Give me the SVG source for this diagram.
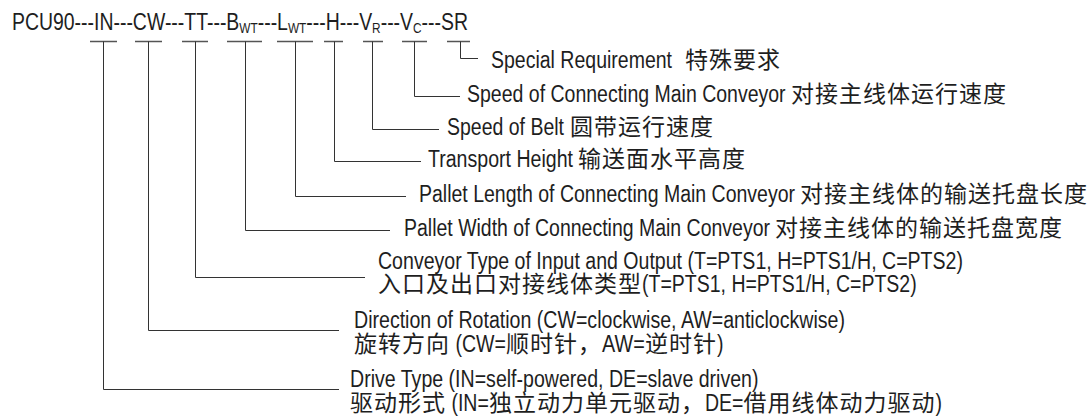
<svg xmlns="http://www.w3.org/2000/svg" width="1091" height="419" viewBox="0 0 1091 419">
  <style>
    .e { font-family: "Liberation Sans", Arial, sans-serif; font-size: 23px; fill: #1e1e1e; }
    .z { font-family: "Noto Sans CJK SC", "Noto Sans CJK TC", sans-serif; font-size: 23px; letter-spacing: 1px; fill: #1e1e1e; }
    .sub { font-size: 14px; }
    .tick { stroke: #555; stroke-width: 1.5; fill: none; }
    .conn { stroke: #333; stroke-width: 1; fill: none; }
  </style>
  <rect width="1091" height="419" fill="#fff"/>

  <g id="code">
    <text class="e" x="12" y="30" textLength="456" lengthAdjust="spacingAndGlyphs">PCU90---IN---CW---TT---B<tspan class="sub" dy="3">WT</tspan><tspan dy="-3">---L</tspan><tspan class="sub" dy="3">WT</tspan><tspan dy="-3">---H---V</tspan><tspan class="sub" dy="3">R</tspan><tspan dy="-3">---V</tspan><tspan class="sub" dy="3">C</tspan><tspan dy="-3">---SR</tspan></text>
  </g>

  <g id="connectors">
    <path class="tick" d="M90 41.5H117M135 41.5H162M182 41.5H208M227 41.5H262M277 41.5H313M324 41.5H343M363 41.5H383M402 41.5H427M447 41.5H470"/>
    <path class="conn" d="M460.5 41.5V58.5H478"/>
    <path class="conn" d="M414.5 41.5V96.5H460"/>
    <path class="conn" d="M372.5 41.5V129.5H439"/>
    <path class="conn" d="M334.5 41.5V161.5H421"/>
    <path class="conn" d="M295.5 41.5V196.5H406"/>
    <path class="conn" d="M245.5 41.5V230.5H390"/>
    <path class="conn" d="M195.5 41.5V277.5H365"/>
    <path class="conn" d="M148.5 41.5V330.5H339"/>
    <path class="conn" d="M103.5 41.5V389.5H339"/>
  </g>

  <g id="sr">
    <text class="e" x="491" y="68" textLength="181" lengthAdjust="spacingAndGlyphs">Special Requirement</text>
    <text class="z" x="685" y="68">特殊要求</text>
  </g>
  <g id="vc">
    <text class="e" x="467" y="102" textLength="318.6" lengthAdjust="spacingAndGlyphs">Speed of Connecting Main Conveyor</text>
    <text class="z" x="791" y="102">对接主线体运行速度</text>
  </g>
  <g id="vr">
    <text class="e" x="447" y="135" textLength="117" lengthAdjust="spacingAndGlyphs">Speed of Belt</text>
    <text class="z" x="570" y="135">圆带运行速度</text>
  </g>
  <g id="h">
    <text class="e" x="428" y="167" textLength="145" lengthAdjust="spacingAndGlyphs">Transport Height</text>
    <text class="z" x="578" y="167">输送面水平高度</text>
  </g>
  <g id="lwt">
    <text class="e" x="419" y="202" textLength="376" lengthAdjust="spacingAndGlyphs">Pallet Length of Connecting Main Conveyor</text>
    <text class="z" x="800" y="202">对接主线体的输送托盘长度</text>
  </g>
  <g id="bwt">
    <text class="e" x="404" y="236" textLength="366" lengthAdjust="spacingAndGlyphs">Pallet Width of Connecting Main Conveyor</text>
    <text class="z" x="775" y="236">对接主线体的输送托盘宽度</text>
  </g>
  <g id="tt">
    <text class="e" x="378" y="269" textLength="585" lengthAdjust="spacingAndGlyphs">Conveyor Type of Input and Output (T=PTS1, H=PTS1/H, C=PTS2)</text>
    <text class="z" x="378" y="292">入口及出口对接线体类型</text>
    <text class="e" x="642" y="292" textLength="274.7" lengthAdjust="spacingAndGlyphs">(T=PTS1, H=PTS1/H, C=PTS2)</text>
  </g>
  <g id="cw">
    <text class="e" x="354" y="328" textLength="491" lengthAdjust="spacingAndGlyphs">Direction of Rotation (CW=clockwise, AW=anticlockwise)</text>
    <text class="z" x="354" y="352">旋转方向</text>
    <text class="e" x="455.5" y="352" textLength="50.4" lengthAdjust="spacingAndGlyphs">(CW=</text>
    <text class="z" x="506" y="352">顺时针，</text>
    <text class="e" x="602" y="352" textLength="42.8" lengthAdjust="spacingAndGlyphs">AW=</text>
    <text class="z" x="645" y="352">逆时针</text>
    <text class="e" x="717" y="352" textLength="6.5" lengthAdjust="spacingAndGlyphs">)</text>
  </g>
  <g id="in">
    <text class="e" x="350" y="387" textLength="408.5" lengthAdjust="spacingAndGlyphs">Drive Type (IN=self-powered, DE=slave driven)</text>
    <text class="z" x="350" y="411">驱动形式</text>
    <text class="e" x="451.4" y="411" textLength="37.4" lengthAdjust="spacingAndGlyphs">(IN=</text>
    <text class="z" x="489" y="411">独立动力单元驱动，</text>
    <text class="e" x="705" y="411" textLength="38.5" lengthAdjust="spacingAndGlyphs">DE=</text>
    <text class="z" x="743.5" y="411">借用线体动力驱动</text>
    <text class="e" x="935.5" y="411" textLength="6.5" lengthAdjust="spacingAndGlyphs">)</text>
  </g>
</svg>
